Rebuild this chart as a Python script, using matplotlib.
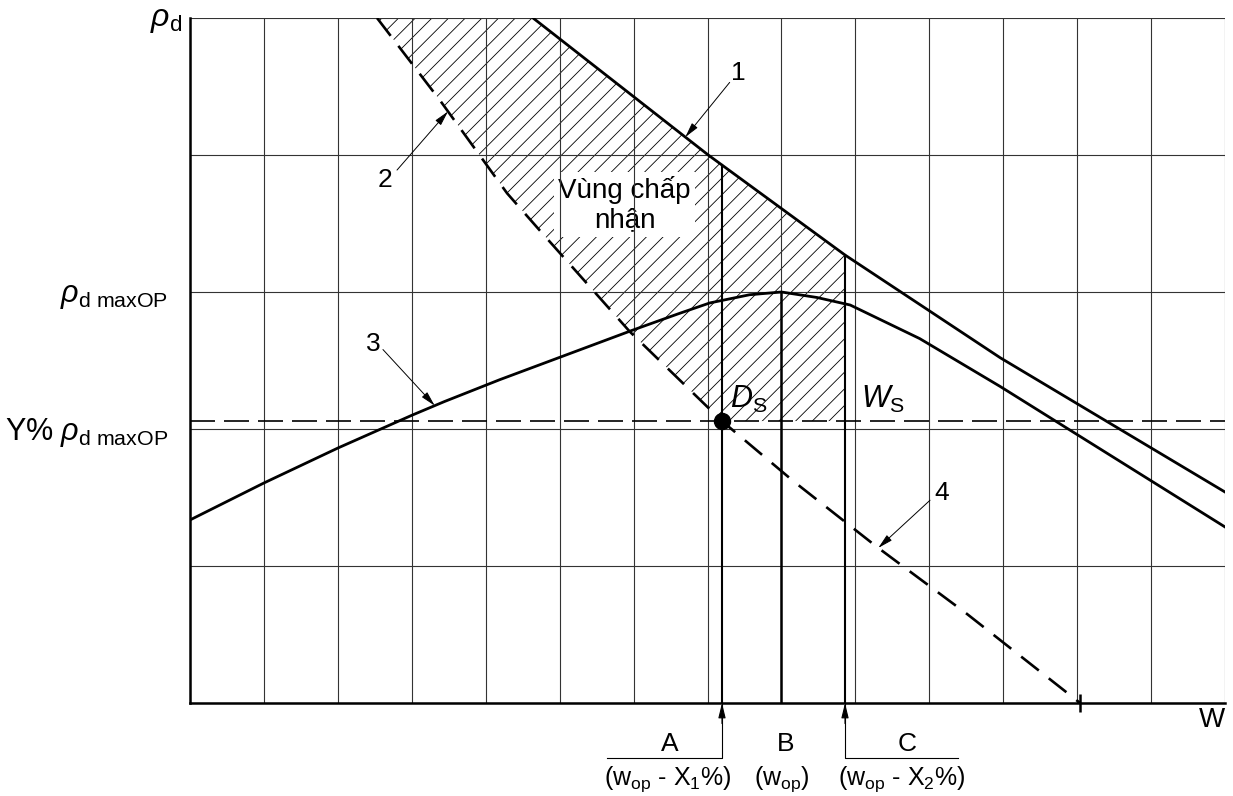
import numpy as np
import matplotlib
matplotlib.use("Agg")
import matplotlib.pyplot as plt
from matplotlib import transforms

plt.rcParams['font.family'] = ['Liberation Sans', 'DejaVu Sans']
plt.rcParams['mathtext.fontset'] = 'custom'
plt.rcParams['mathtext.rm'] = 'Liberation Sans'
plt.rcParams['mathtext.it'] = 'Liberation Sans:italic'
plt.rcParams['hatch.linewidth'] = 0.6

# Đường 1 (đường trên, nét liền)
w_1 = [4.64, 7.01, 8.86, 10.96, 14.0]
rho_1 = [5.0, 4.0, 3.27, 2.52, 1.54]

# Đường 2 / 4 (nét đứt)
w_2 = [2.53, 3.38, 4.29, 4.73, 5.95, 7.196, 8.16, 9.29, 10.51, 12.04]
rho_2 = [5.0, 4.40, 3.72, 3.45, 2.71, 2.058, 1.62, 1.14, 0.65, 0.0]

# Đường 3 (đường cong đầm nén)
w_3 = [0.0, 1.0, 2.0, 3.0, 3.44, 4.19, 5.98, 6.6, 7.03, 7.57, 8.0, 8.48, 8.93, 9.87, 10.96, 14.0]
rho_3 = [1.336, 1.606, 1.861, 2.10, 2.20, 2.36, 2.72, 2.84, 2.92, 2.98, 3.0, 2.96, 2.905, 2.66, 2.31, 1.285]

rho_Y = 2.058                     # Y% rho_d maxOP
w_A, w_B, w_C = 7.196, 8.0, 8.86  # độ ẩm A, B, C
w_max, rho_top = 14, 5
y_ext = -0.40                     # đường dẫn nhãn dưới trục

fig = plt.figure(figsize=(12.33, 7.96), dpi=100)
ax = fig.add_axes([190 / 1233, 93 / 796, 1035 / 1233, 685 / 796])
ax.set_xlim(0, w_max)
ax.set_ylim(0, rho_top)
ax.set_xticks([])
ax.set_yticks([])

# lưới
for xi in range(w_max + 1):
    ax.axvline(xi, color='#333333', lw=0.8, zorder=2)
for yi in range(rho_top + 1):
    ax.axhline(yi, color='#333333', lw=0.8, zorder=2)
for s in ['top', 'right']:
    ax.spines[s].set_visible(False)
for s in ['left', 'bottom']:
    ax.spines[s].set_linewidth(1.8)
    ax.spines[s].set_zorder(5)

# vùng chấp nhận (gạch chéo)
rho_1C = np.interp(w_C, w_1, rho_1)
n_ds = w_2.index(w_A) + 1
poly_w = w_2[:n_ds] + [w_C, w_C] + [w for w in w_1 if w < w_C][::-1]
poly_r = rho_2[:n_ds] + [rho_Y, rho_1C] + [r for w, r in zip(w_1, rho_1) if w < w_C][::-1]
ax.fill(poly_w, poly_r, facecolor='none', edgecolor='black', hatch='//',
        linewidth=0, zorder=1)
ax.text(5.88, 3.64, 'Vùng chấp\nnhận', fontsize=20, ha='center', va='center',
        linespacing=1.15, zorder=1.5,
        bbox=dict(facecolor='white', edgecolor='none', pad=3))

# các đường chính
ax.plot(w_1, rho_1, color='black', lw=2.0, zorder=4)
ax.plot(w_3, rho_3, color='black', lw=2.0, zorder=4)
ax.plot(w_2, rho_2, color='black', lw=1.9, ls=(0, (8.5, 4.8)), zorder=4)
ax.plot(w_2[-1], rho_2[-1], marker='|', markersize=13, mew=1.8, color='black',
        clip_on=False, zorder=5)
ax.axhline(rho_Y, color='black', lw=1.2, ls=(0, (15, 5.4)), zorder=4)

# đường đứng A, B, C
rho_1A = np.interp(w_A, w_1, rho_1)
ax.plot([w_A, w_A], [rho_1A, 0], color='black', lw=1.5, zorder=4)
ax.plot([w_B, w_B], [max(rho_3), 0], color='black', lw=1.8, zorder=4)
ax.plot([w_C, w_C], [rho_1C, 0], color='black', lw=1.5, zorder=4)

ax.plot(w_A, rho_Y, 'o', color='black', markersize=11.5, zorder=6)
ax.text(7.30, 2.153, r'$D_{\rm S}$', fontsize=22, ha='left', va='baseline')
ax.text(9.08, 2.153, r'$W_{\rm S}$', fontsize=22, ha='left', va='baseline')

# nhãn dưới trục hoành
head = dict(arrowstyle='-|>,head_length=0.9,head_width=0.22', color='black',
            lw=0.8, shrinkA=0, shrinkB=0)
ax.plot([5.64, w_A, w_A], [y_ext, y_ext, 0], color='black', lw=0.8, clip_on=False)
ax.plot([10.39, w_C, w_C], [y_ext, y_ext, 0], color='black', lw=0.8, clip_on=False)
ax.annotate('', xy=(w_A, 0), xytext=(w_A, -0.15), arrowprops=head, annotation_clip=False)
ax.annotate('', xy=(w_C, 0), xytext=(w_C, -0.15), arrowprops=head, annotation_clip=False)

ax.text(6.49, -0.35, 'A', fontsize=19, ha='center', va='baseline', clip_on=False)
ax.text(8.05, -0.35, 'B', fontsize=19, ha='center', va='baseline', clip_on=False)
ax.text(9.70, -0.35, 'C', fontsize=19, ha='center', va='baseline', clip_on=False)
ax.text(6.46, -0.60, r'(w$_{\rm op}$ - X$_1$%)', fontsize=18, ha='center', va='baseline')
ax.text(8.01, -0.60, r'(w$_{\rm op}$)', fontsize=18, ha='center', va='baseline')
ax.text(9.63, -0.60, r'(w$_{\rm op}$ - X$_2$%)', fontsize=18, ha='center', va='baseline')
ax.text(13.82, -0.124, 'W', fontsize=20, ha='center', va='center')

# nhãn trục tung
lab = transforms.blended_transform_factory(ax.transAxes, ax.transData)
ax.text(-0.008, 4.985, r'$\rho_{\rm d}$', transform=lab, fontsize=23, ha='right', va='center')
ax.text(-0.021, 2.97, r'$\rho_{\rm d\ maxOP}$', transform=lab, fontsize=22, ha='right', va='center')
ax.text(-0.021, 1.978, r'Y% $\rho_{\rm d\ maxOP}$', transform=lab, fontsize=22, ha='right', va='center')

# chú thích 1-4
leader = dict(arrowstyle='-|>,head_length=0.9,head_width=0.22', color='black',
              lw=0.7, shrinkA=0, shrinkB=0)
callouts = [
    ('1', 6.70, w_1, rho_1, (7.30, 4.53), (7.42, 4.60)),
    ('2', 3.49, w_2, rho_2, (2.80, 3.89), (2.64, 3.82)),
    ('3', 3.31, w_3, rho_3, (2.61, 2.58), (2.48, 2.62)),
    ('4', 9.31, w_2, rho_2, (10.01, 1.48), (10.17, 1.53)),
]
for name, wx, ws, rs, start, pos in callouts:
    ax.annotate('', xy=(wx, np.interp(wx, ws, rs)), xytext=start, arrowprops=leader)
    ax.text(pos[0], pos[1], name, fontsize=19, ha='center', va='center')

fig.savefig('out.png', dpi=100)
